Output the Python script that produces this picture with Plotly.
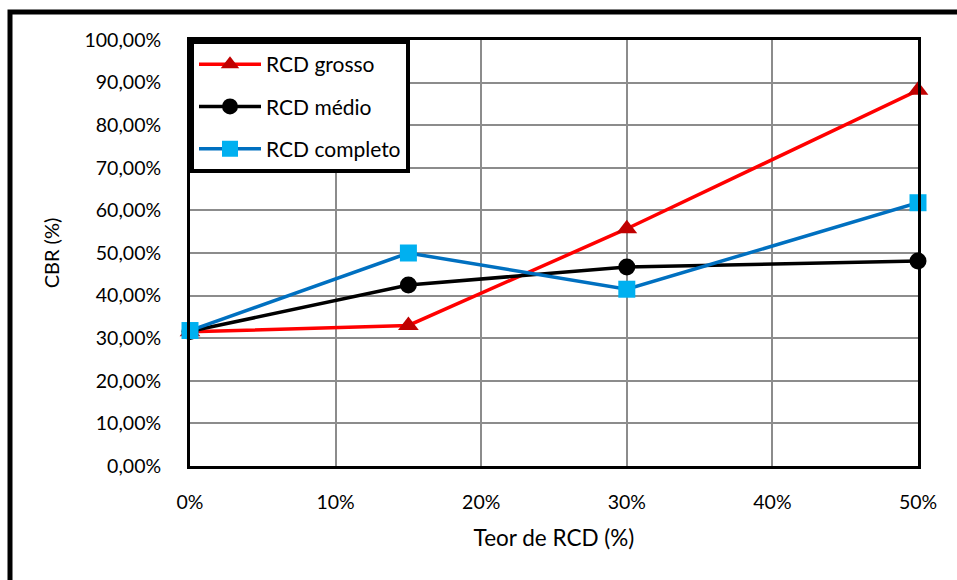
import plotly.graph_objects as go

teor = [0.0, 0.15, 0.30, 0.50]
rcd_grosso = [0.315, 0.330, 0.557, 0.882]
rcd_medio = [0.316, 0.425, 0.467, 0.481]
rcd_completo = [0.318, 0.500, 0.415, 0.618]

x_ticks = [0.0, 0.1, 0.2, 0.3, 0.4, 0.5]
y_ticks = [i / 10 for i in range(11)]

FONT = "Lato, 'Open Sans', sans-serif"

fig = go.Figure()
fig.add_trace(go.Scatter(
    x=teor, y=rcd_grosso, name="RCD grosso", mode="lines+markers",
    legendgroup="a", cliponaxis=False,
    line=dict(color="#FF0000", width=3.5),
    marker=dict(symbol="triangle-up", size=18, color="#C00000"),
))
fig.add_trace(go.Scatter(
    x=teor, y=rcd_medio, name="RCD médio", mode="lines+markers",
    legendgroup="b", cliponaxis=False,
    line=dict(color="#000000", width=3.5),
    marker=dict(symbol="circle", size=17, color="#000000"),
))
fig.add_trace(go.Scatter(
    x=teor, y=rcd_completo, name="RCD completo", mode="lines+markers",
    legendgroup="c", cliponaxis=False,
    line=dict(color="#0070C0", width=3.5),
    marker=dict(symbol="square", size=17, color="#00B0F0"),
))

fig.update_layout(
    width=957, height=580,
    margin=dict(l=190, r=39, t=40, b=114),
    paper_bgcolor="white", plot_bgcolor="white",
    font=dict(family=FONT, size=19.5, color="black"),
    separators=",.",
    showlegend=True,
    legend=dict(
        x=0, y=1, xanchor="left", yanchor="top",
        bgcolor="white", bordercolor="black", borderwidth=4,
        font=dict(size=21), tracegroupgap=12,
        itemwidth=62,
    ),
    xaxis=dict(
        range=[0, 0.5], tickvals=x_ticks, tickformat=".0%",
        showgrid=True, gridcolor="#8c8c8c", gridwidth=1.5,
        showline=True, linecolor="black", linewidth=3, mirror=True,
        zeroline=False, ticks="", ticklabelstandoff=17,
        title=dict(text="Teor de RCD (%)", standoff=18, font=dict(size=22.5)),
    ),
    yaxis=dict(
        range=[0, 1.0], tickvals=y_ticks, tickformat=".2%",
        showgrid=True, gridcolor="#8c8c8c", gridwidth=1.5,
        showline=True, linecolor="black", linewidth=3, mirror=True,
        zeroline=False, ticks="", ticklabelstandoff=22,
        title=dict(text="CBR (%)", standoff=20, font=dict(size=20)),
    ),
    shapes=[dict(
        type="rect", xref="paper", yref="paper",
        x0=(10 - 190) / 728, x1=(970 - 190) / 728,
        y0=(466 - 600) / 426, y1=(466 - 12) / 426,
        line=dict(color="black", width=5), fillcolor="rgba(0,0,0,0)",
        layer="below",
    )],
)

fig.write_html("out.html")
